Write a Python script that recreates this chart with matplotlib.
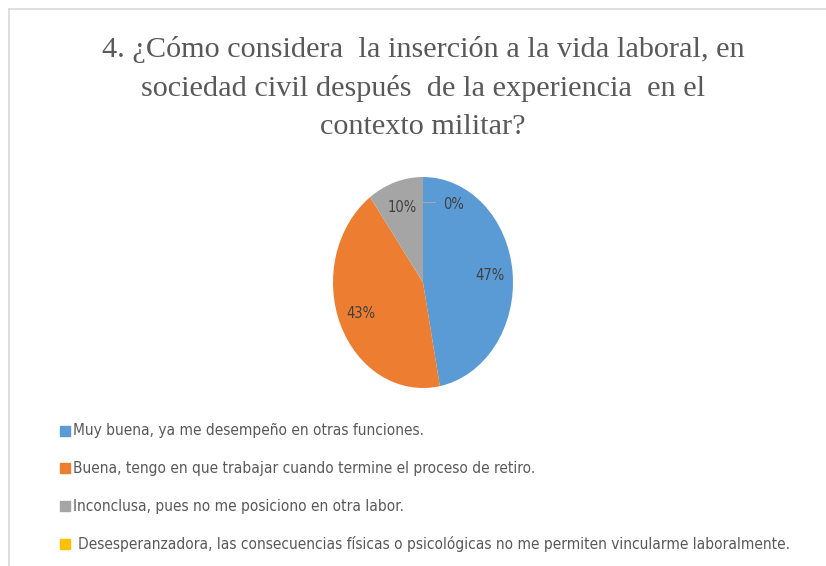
import matplotlib
matplotlib.use("Agg")
import matplotlib.pyplot as plt
from matplotlib.lines import Line2D
from matplotlib.patches import Rectangle

title = ("4. ¿Cómo considera  la inserción a la vida laboral, en\n"
         "sociedad civil después  de la experiencia  en el\n"
         "contexto militar?")
labels = [
    "Muy buena, ya me desempeño en otras funciones.",
    "Buena, tengo en que trabajar cuando termine el proceso de retiro.",
    "Inconclusa, pues no me posiciono en otra labor.",
    "Desesperanzadora, las consecuencias físicas o psicológicas no me permiten vincularme laboralmente.",
]
values = [47, 43, 10, 0]
colors = ["#5B9BD5", "#ED7D31", "#A5A5A5", "#FFC000"]

W, H = 826, 566
fig = plt.figure(figsize=(W / 100, H / 100), dpi=100)
fig.patch.set_facecolor("white")

# frame lines of the original screenshot
fig.add_artist(Line2D([9 / W, 1], [1 - 9 / H, 1 - 9 / H], color="#D9D9D9", lw=1.2))
fig.add_artist(Line2D([9 / W, 9 / W], [0, 1 - 9 / H], color="#D9D9D9", lw=1.2))

fig.text(423 / W, 1 - 36 / H, title, ha="center", va="top", fontsize=21.8,
         family="Liberation Serif", color="#595959", linespacing=1.58)

ax = fig.add_axes([333 / W, 1 - 388 / H, 180 / W, 211 / H])
wedges, texts, autotexts = ax.pie(
    values, colors=colors, startangle=90, counterclock=False,
    autopct="%1.0f%%", pctdistance=0.75,
    textprops={"fontsize": 10.5, "color": "#404040", "family": "DejaVu Sans",
               "fontstretch": "condensed"},
)
ax.set_aspect("auto")
ax.set_xlim(-1, 1)
ax.set_ylim(-1, 1)

# the 0% slice gets an outside label with a short leader
zero = autotexts[3]
zero.set_position((0.22, 0.74))
zero.set_ha("left")
ax.plot([0.0, 0.13], [0.76, 0.76], color="#A6A6A6", lw=0.8)

ys = [431, 468, 506, 544]
for i, (lab, c) in enumerate(zip(labels, colors)):
    y = ys[i]
    fig.add_artist(Rectangle((60 / W, 1 - (y + 5) / H), 10 / W, 10 / H,
                             color=c, transform=fig.transFigure))
    x0 = 73 if i < 3 else 78
    fig.text(x0 / W, 1 - y / H, lab, ha="left", va="center", fontsize=11.1,
             family="DejaVu Sans", fontstretch="condensed", color="#595959")

fig.savefig("out.png", dpi=100)
